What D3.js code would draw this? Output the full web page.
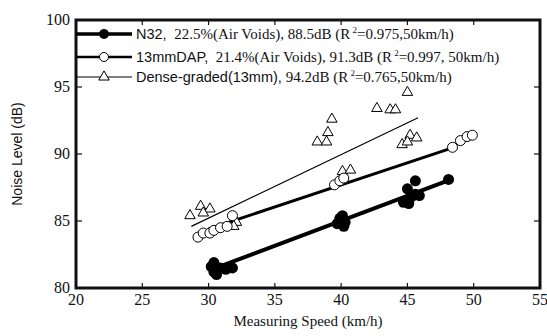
<!DOCTYPE html>
<html>
<head>
<meta charset="utf-8">
<script src="https://cdn.jsdelivr.net/npm/d3@7"></script>
<style>
  body { margin: 0; background: #fff; }
  svg text { fill: #111; }
</style>
</head>
<body>
<div id="chart"></div>
<script>
var W = 547, H = 336;

// data
var xTicks = [20, 25, 30, 35, 40, 45, 50, 55];
var yTicks = [80, 85, 90, 95, 100];

var n32 = [[30.2,81.6],[30.4,81.2],[30.6,81.0],[30.9,81.5],[31.3,81.4],[31.8,81.5],[30.4,81.9],
  [39.7,84.8],[39.9,85.2],[40.1,85.4],[40.3,84.9],[40.2,84.6],
  [44.7,86.4],[45.0,87.4],[45.3,86.8],[45.6,87.0],[45.6,88.0],[45.1,86.3],[45.9,86.9],[48.1,88.1]];
var dap = [[29.2,83.8],[29.6,84.1],[30.1,84.1],[30.4,84.3],[30.9,84.5],[31.4,84.6],[31.8,85.4],
  [39.5,87.7],[39.9,88.0],[40.2,88.2],
  [48.4,90.5],[49.0,91.0],[49.5,91.3],[49.9,91.4]];
var dense = [[28.6,85.4],[29.4,86.1],[30.1,85.9],[29.6,85.6],[32.1,84.9],[31.9,84.6],
  [38.2,90.9],[38.9,90.9],[39.0,91.6],[39.3,92.6],[40.1,88.7],[40.7,88.8],
  [42.7,93.4],[43.7,93.3],[44.1,93.3],[45.0,94.6],
  [44.6,90.7],[45.2,91.4],[45.7,91.2],[45.0,90.9]];

var fitN32 = [[30.3,81.4],[48.3,88.1]];
var fitDap = [[30.0,84.4],[48.5,90.5]];
var fitDense = [[28.7,84.6],[45.8,92.7]];

var legendLabels = [
  ["N32,", "  22.5%(Air Voids), 88.5dB (R", "=0.975,50km/h)"],
  ["13mmDAP,", "  21.4%(Air Voids), 91.3dB (R", "=0.997, 50km/h)"],
  ["Dense-graded(13mm),", " 94.2dB (R", "=0.765,50km/h)"]
];

var margin = {left: 76, right: W - 540, top: 20, bottom: H - 288};

var svg = d3.select('#chart').append('svg')
  .attr('width', W)
  .attr('height', H);

var x = d3.scaleLinear().domain([20, 55]).range([margin.left, W - margin.right]);
var y = d3.scaleLinear().domain([80, 100]).range([H - margin.bottom, margin.top]);

var serif = "'Liberation Serif', 'Times New Roman', serif";
var sans = "'Liberation Sans', Arial, sans-serif";

// tick marks inside, on all four sides
var g = svg.append('g');
xTicks.slice(1, -1).forEach(function(t) {
  g.append('line').attr('x1', x(t)).attr('x2', x(t)).attr('y1', y(80)).attr('y2', y(80) - 5)
    .attr('stroke', '#111').attr('stroke-width', 1.2);
  g.append('line').attr('x1', x(t)).attr('x2', x(t)).attr('y1', y(100)).attr('y2', y(100) + 5)
    .attr('stroke', '#111').attr('stroke-width', 1.2);
});
yTicks.slice(1, -1).forEach(function(t) {
  g.append('line').attr('x1', x(20)).attr('x2', x(20) + 6).attr('y1', y(t)).attr('y2', y(t))
    .attr('stroke', '#111').attr('stroke-width', 1.2);
  g.append('line').attr('x1', x(55)).attr('x2', x(55) - 6).attr('y1', y(t)).attr('y2', y(t))
    .attr('stroke', '#111').attr('stroke-width', 1.2);
});

// frame
svg.append('rect')
  .attr('x', x(20)).attr('y', y(100))
  .attr('width', x(55) - x(20)).attr('height', y(80) - y(100))
  .attr('fill', 'none').attr('stroke', '#111').attr('stroke-width', 3);

// tick labels
svg.selectAll('.xl').data(xTicks).enter().append('text')
  .attr('x', function(d) { return x(d); })
  .attr('y', y(80) + 17)
  .attr('text-anchor', 'middle')
  .style('font-family', serif).style('font-size', '16px')
  .text(function(d) { return d; });

svg.selectAll('.yl').data(yTicks).enter().append('text')
  .attr('x', x(20) - 6)
  .attr('y', function(d) { return y(d) + 5; })
  .attr('text-anchor', 'end')
  .style('font-family', serif).style('font-size', '16px')
  .text(function(d) { return d; });

// axis titles
svg.append('text')
  .attr('x', (x(20) + x(55)) / 2).attr('y', H - 10)
  .attr('text-anchor', 'middle')
  .style('font-family', serif).style('font-size', '15px')
  .text('Measuring Speed (km/h)');

svg.append('text')
  .attr('transform', 'translate(22,' + ((y(80) + y(100)) / 2) + ') rotate(-90)')
  .attr('text-anchor', 'middle')
  .style('font-family', sans).style('font-size', '14px')
  .text('Noise Level (dB)');

// fitted lines
var line = d3.line().x(function(d) { return x(d[0]); }).y(function(d) { return y(d[1]); });
svg.append('path').attr('d', line(fitN32)).attr('stroke', '#000').attr('stroke-width', 4).attr('fill', 'none');
svg.append('path').attr('d', line(fitDap)).attr('stroke', '#000').attr('stroke-width', 3).attr('fill', 'none');
svg.append('path').attr('d', line(fitDense)).attr('stroke', '#000').attr('stroke-width', 1.2).attr('fill', 'none');

// markers
var tri = d3.symbol().type(d3.symbolTriangle).size(48);

svg.selectAll('.dense').data(dense).enter().append('path')
  .attr('d', tri)
  .attr('transform', function(d) { return 'translate(' + x(d[0]) + ',' + y(d[1]) + ')'; })
  .attr('fill', '#fff').attr('stroke', '#000').attr('stroke-width', 1);

svg.selectAll('.dap').data(dap).enter().append('circle')
  .attr('cx', function(d) { return x(d[0]); })
  .attr('cy', function(d) { return y(d[1]); })
  .attr('r', 5)
  .attr('fill', '#fff').attr('stroke', '#000').attr('stroke-width', 1);

svg.selectAll('.n32').data(n32).enter().append('circle')
  .attr('cx', function(d) { return x(d[0]); })
  .attr('cy', function(d) { return y(d[1]); })
  .attr('r', 5.5)
  .attr('fill', '#000');

// legend
var rowY = [34, 57, 77];
var lw = [3.5, 2.5, 1.2];
legendLabels.forEach(function(lab, i) {
  var ly = rowY[i];
  svg.append('line').attr('x1', x(20)).attr('x2', 132).attr('y1', ly).attr('y2', ly)
    .attr('stroke', '#000').attr('stroke-width', lw[i]);
  if (i == 0) {
    svg.append('circle').attr('cx', 104).attr('cy', ly).attr('r', 5).attr('fill', '#000');
  } else if (i == 1) {
    svg.append('circle').attr('cx', 104).attr('cy', ly).attr('r', 4.5).attr('fill', '#fff')
      .attr('stroke', '#000').attr('stroke-width', 1);
  } else {
    svg.append('path').attr('d', tri).attr('transform', 'translate(104,' + ly + ')')
      .attr('fill', '#fff').attr('stroke', '#000').attr('stroke-width', 1);
  }
  var t = svg.append('text').attr('x', 136).attr('y', ly + 5)
    .style('font-size', '15px').attr('xml:space', 'preserve');
  t.append('tspan').style('font-family', sans).style('font-size', '14.5px').text(lab[0]);
  t.append('tspan').style('font-family', serif).text(lab[1]);
  t.append('tspan').style('font-family', serif).style('font-size', '9px').attr('dy', -6).text(' 2');
  t.append('tspan').style('font-family', serif).attr('dy', 6).text(lab[2]);
});
</script>
</body>
</html>
